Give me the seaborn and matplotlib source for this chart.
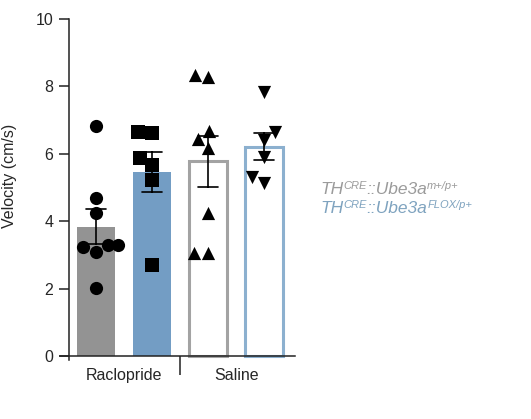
import numpy as np
import pandas as pd
import matplotlib
matplotlib.use("Agg")
import matplotlib.pyplot as plt
import seaborn as sns

# ---- data ----
groups = ["Raclopride m+/p+", "Raclopride FLOX/p+", "Saline m+/p+", "Saline FLOX/p+"]
rac_m = [6.83, 4.70, 4.23, 3.29, 3.24, 3.29, 3.09, 2.03]
rac_flox = [6.66, 6.63, 5.86, 5.67, 5.22, 2.70]
sal_m = [8.34, 8.27, 6.68, 6.44, 6.16, 4.23, 3.05, 3.05]
sal_flox = [7.82, 6.66, 6.41, 5.91, 5.12, 5.32]
tick_labels = ["Raclopride", "Saline"]
legend_parts = [["TH", "CRE", "::Ube3a", "m+/p+"],
                ["TH", "CRE", "::Ube3a", "FLOX/p+"]]

series = [rac_m, rac_flox, sal_m, sal_flox]
df = pd.DataFrame({
    "group": np.concatenate([[g] * len(v) for g, v in zip(groups, series)]),
    "value": np.concatenate(series),
})

# ---- style ----
sns.set_style("ticks")
plt.rcParams["font.family"] = ["Liberation Sans", "DejaVu Sans"]

fills = ["#939393", "#739dc4", "white", "white"]
edges = ["#939393", "#739dc4", "#a3a3a3", "#8cb0cf"]
markers = ["o", "s", "^", "v"]
axis_col = "#222222"

fig = plt.figure(figsize=(5.31, 4.19), dpi=100)
ax = fig.add_axes([0.113, 0.1408, 0.4426, 0.8139])

sns.barplot(data=df, x="group", y="value", order=groups, hue="group",
            hue_order=groups, palette=dict(zip(groups, fills)), legend=False,
            errorbar="se", capsize=0.36, width=0.67, saturation=1,
            err_kws={"color": "black", "linewidth": 1.2}, ax=ax)
for p, ec, fc in zip(ax.patches, edges, fills):
    p.set_edgecolor(ec)
    p.set_linewidth(2.2 if fc == "white" else 0.0)

for g, m in zip(groups, markers):
    sns.swarmplot(data=df[df["group"] == g], x="group", y="value", order=groups,
                  marker=m, color="black", size=9.5, linewidth=0, zorder=3, ax=ax)

ax.set_xlim(-0.643, 3.55)
ax.set_ylim(-0.12, 10)
ax.spines["top"].set_visible(False)
ax.spines["right"].set_visible(False)
ax.spines["left"].set_position(("data", -0.49))
ax.spines["bottom"].set_position(("data", 0))
for s in ("left", "bottom"):
    ax.spines[s].set_linewidth(1.1)
    ax.spines[s].set_color(axis_col)

ax.set_yticks([0, 2, 4, 6, 8, 10])
ax.tick_params(axis="y", length=7, width=1.1, color=axis_col, labelsize=11.5, pad=4)
ax.set_xticks([0.5, 2.5])
ax.set_xticklabels(tick_labels)
ax.tick_params(axis="x", which="major", length=0, labelsize=11.5, pad=9)
ax.set_xticks([1.5], minor=True)
ax.tick_params(axis="x", which="minor", length=14, width=1.1, color=axis_col)
ax.set_xlabel("")
ax.set_ylabel("Velocity (cm/s)", fontsize=11.5)
ax.yaxis.set_label_coords(-0.185, 0.54)

# ---- legend text (italic with superscripts) ----
legend_cols = ["#9b9b9b", "#7fa3bf"]
legend_y = [1 - 194 / 419, 1 - 213 / 419]
big, small = 12.5, 8
for parts, col, yy in zip(legend_parts, legend_cols, legend_y):
    t1 = fig.text(320 / 531, yy, parts[0], color=col, fontsize=big,
                  style="italic", va="baseline", ha="left")
    t2 = ax.annotate(parts[1], xy=(1, 0.55), xycoords=t1, color=col,
                     fontsize=small, style="italic", va="baseline", ha="left",
                     annotation_clip=False)
    t3 = ax.annotate(parts[2], xy=(1, 0), xycoords=(t2, t1), color=col,
                     fontsize=big, style="italic", va="bottom", ha="left",
                     annotation_clip=False)
    ax.annotate(parts[3], xy=(1, 0.55), xycoords=t3, color=col,
                fontsize=small, style="italic", va="baseline", ha="left",
                annotation_clip=False)

fig.savefig("out.png", dpi=100)
